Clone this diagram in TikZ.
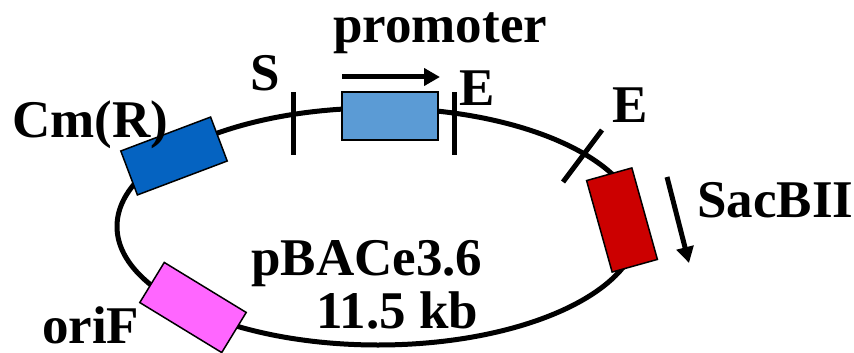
\documentclass[tikz,border=0pt]{standalone}
\usepackage{fontspec}
\setmainfont{Liberation Serif}
\usetikzlibrary{arrows.meta}
\definecolor{cmblue}{RGB}{5,99,193}
\definecolor{promblue}{RGB}{91,155,213}
\definecolor{sacred}{RGB}{204,0,0}
\definecolor{orimag}{RGB}{255,102,255}
\begin{document}
\begin{tikzpicture}[x=1pt,y=-1pt,
  lbl/.style={font=\fontsize{53}{60}\selectfont\bfseries, inner sep=0pt, anchor=base west},
  gene/.style={draw=black, line width=1.5pt, minimum width=96pt, minimum height=47pt, inner sep=0pt},
  site/.style={line width=5pt},
  dirarrow/.style={line width=5pt, -{Triangle[length=16pt,width=17pt]}}]
\useasboundingbox (0,0) rectangle (854,353);

% plasmid backbone
\draw[line width=5pt] (378,226.5) ellipse [x radius=261, y radius=118.5];

% restriction sites
\draw[site] (293,92) -- (293,155);
\draw[site] (454,92) -- (454,155);
\draw[site] (563,182) -- (602,130);

% genetic elements
\node[gene, fill=cmblue, rotate=20.7] (cm) at (174,156) {};
\node[gene, fill=promblue, minimum height=48pt] (prom) at (390,116) {};
\node[gene, fill=sacred, minimum width=47pt, minimum height=95pt, rotate=15.6] (sac) at (622,220) {};
\node[gene, fill=orimag, rotate=-31.4] (ori) at (193,307.5) {};

% transcription directions
\coordinate (promA) at (342,77);
\coordinate (promB) at (440,77);
\draw[dirarrow] (promA) -- (promB);
\coordinate (sacA) at (667,177);
\coordinate (sacB) at (689,263);
\draw[dirarrow] (sacA) -- (sacB);

% labels
\node[lbl] (tprom) at (333,43) {promoter};
\node[lbl] (tS) at (250,90) {S};
\node[lbl] (tE1) at (459,105) {E};
\node[lbl] (tE2) at (612,122) {E};
\node[lbl] (tcm) at (12,137) {Cm(R)};
\node[lbl] (tsac) at (697,217) {SacBII};
\node[lbl] (tname) at (251,275) {pBACe3.6};
\node[lbl] (tsize) at (316,328) {11.5 kb};
\node[lbl] (tori) at (42,343) {oriF};
\end{tikzpicture}
\end{document}
